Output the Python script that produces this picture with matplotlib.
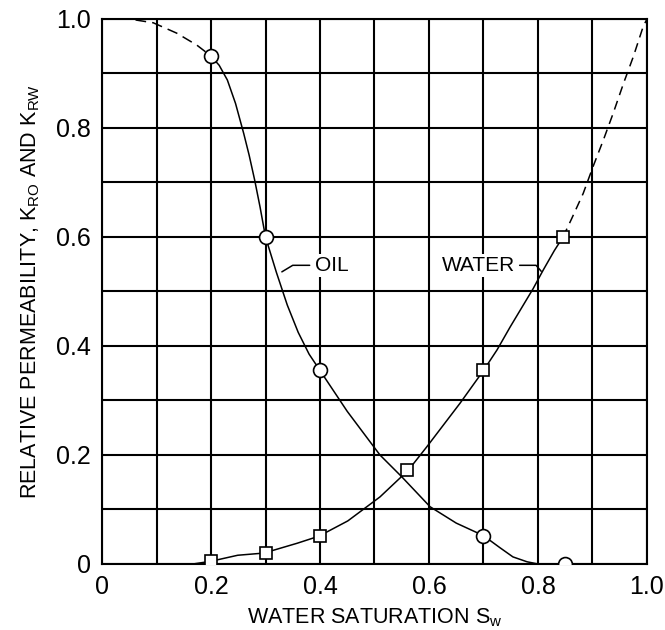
import numpy as np
import matplotlib
matplotlib.use('Agg')
import matplotlib.pyplot as plt

# Дані
tick_values = [0, 0.2, 0.4, 0.6, 0.8, 1.0]
tick_labels = ['0', '0.2', '0.4', '0.6', '0.8', '1.0']

# Нафта: пунктирна частина і суцільна крива
oil_dash_x = [0.0, 0.05, 0.094, 0.137, 0.174, 0.2]
oil_dash_y = [1.0, 1.0, 0.993, 0.974, 0.952, 0.932]
oil_x = [0.2, 0.215, 0.23, 0.245, 0.26, 0.27, 0.28, 0.29, 0.3, 0.32, 0.34, 0.36,
         0.38, 0.4, 0.45, 0.51, 0.55, 0.602, 0.65, 0.7, 0.73, 0.754, 0.78, 0.8]
oil_y = [0.932, 0.915, 0.888, 0.845, 0.79, 0.75, 0.705, 0.655, 0.6, 0.535, 0.475,
         0.425, 0.385, 0.355, 0.28, 0.2, 0.16, 0.105, 0.075, 0.052, 0.03, 0.013,
         0.004, 0.0]
oil_pts_x = [0.2, 0.3, 0.4, 0.7, 0.85]
oil_pts_y = [0.932, 0.6, 0.355, 0.052, 0.0]

# Вода: суцільна крива і пунктирне продовження
water_x = [0.167, 0.2, 0.249, 0.297, 0.358, 0.398, 0.451, 0.51, 0.562, 0.596,
           0.657, 0.7, 0.725, 0.749, 0.77, 0.791, 0.81, 0.83, 0.846]
water_y = [0.0, 0.005, 0.016, 0.02, 0.038, 0.051, 0.079, 0.123, 0.172, 0.215,
           0.295, 0.355, 0.393, 0.435, 0.47, 0.505, 0.54, 0.575, 0.6]
water_dash_x = [0.846, 0.862, 0.883, 0.901, 0.92, 0.938, 0.957, 0.975, 0.993, 1.0]
water_dash_y = [0.6, 0.634, 0.68, 0.729, 0.778, 0.827, 0.882, 0.931, 0.986, 1.0]
water_pts_x = [0.2, 0.3, 0.4, 0.56, 0.7, 0.846]
water_pts_y = [0.005, 0.02, 0.052, 0.173, 0.355, 0.6]

plt.rcParams['font.family'] = ['Liberation Sans', 'DejaVu Sans']
plt.rcParams['mathtext.fontset'] = 'custom'
plt.rcParams['mathtext.rm'] = 'Liberation Sans'

fig = plt.figure(figsize=(6.65, 6.3), dpi=100)
ax = fig.add_axes([0.1534, 0.1048, 0.8195, 0.8651])

lw = 1.1
# Криві
ax.plot(oil_dash_x, oil_dash_y, color='black', lw=lw, dashes=(7, 4), zorder=3)
ax.plot(oil_x, oil_y, color='black', lw=lw, zorder=3)
ax.plot(water_x, water_y, color='black', lw=lw, zorder=3)
ax.plot(water_dash_x, water_dash_y, color='black', lw=lw, dashes=(6, 4), zorder=3)

# Точки
ax.plot(oil_pts_x, oil_pts_y, 'o', ms=10, mfc='white', mec='black', mew=1.2, zorder=4)
ax.plot(water_pts_x, water_pts_y, 's', ms=9, mfc='white', mec='black', mew=1.2, zorder=4)

# Підписи кривих
ax.annotate('OIL', xy=(0.33, 0.536), xytext=(0.39, 0.548), fontsize=15,
            ha='left', va='center', zorder=5,
            bbox=dict(boxstyle='square,pad=0.1', fc='white', ec='none'),
            arrowprops=dict(arrowstyle='-', color='black', lw=lw, shrinkA=2, shrinkB=0,
                            connectionstyle='angle,angleA=0,angleB=31,rad=0'))
ax.annotate('WATER', xy=(0.806, 0.537), xytext=(0.623, 0.548), fontsize=15,
            ha='left', va='center', zorder=5,
            bbox=dict(boxstyle='square,pad=0.1', fc='white', ec='none'),
            arrowprops=dict(arrowstyle='-', color='black', lw=lw, shrinkA=2, shrinkB=0,
                            connectionstyle='angle,angleA=0,angleB=131,rad=0'))

# Налаштування осей
ax.set_xlim(0, 1.0)
ax.set_ylim(0, 1.0)
ax.set_xticks(tick_values)
ax.set_xticklabels(tick_labels)
ax.set_yticks(tick_values)
ax.set_yticklabels(tick_labels)
ax.set_xticks(np.arange(0, 1.01, 0.1), minor=True)
ax.set_yticks(np.arange(0, 1.01, 0.1), minor=True)
ax.tick_params(which='both', length=0, labelsize=18, pad=8)
ax.grid(which='both', color='black', lw=1.5)
ax.set_axisbelow(True)
for s in ax.spines.values():
    s.set_linewidth(1.5)

ax.set_xlabel(r'WATER SATURATION S$\mathregular{_w}$', fontsize=15.5, labelpad=5)
ax.set_ylabel(r'RELATIVE PERMEABILITY, K$\mathregular{_{RO}}$ AND K$\mathregular{_{RW}}$',
              fontsize=15.5, labelpad=10)

fig.savefig('out.png', dpi=100)
